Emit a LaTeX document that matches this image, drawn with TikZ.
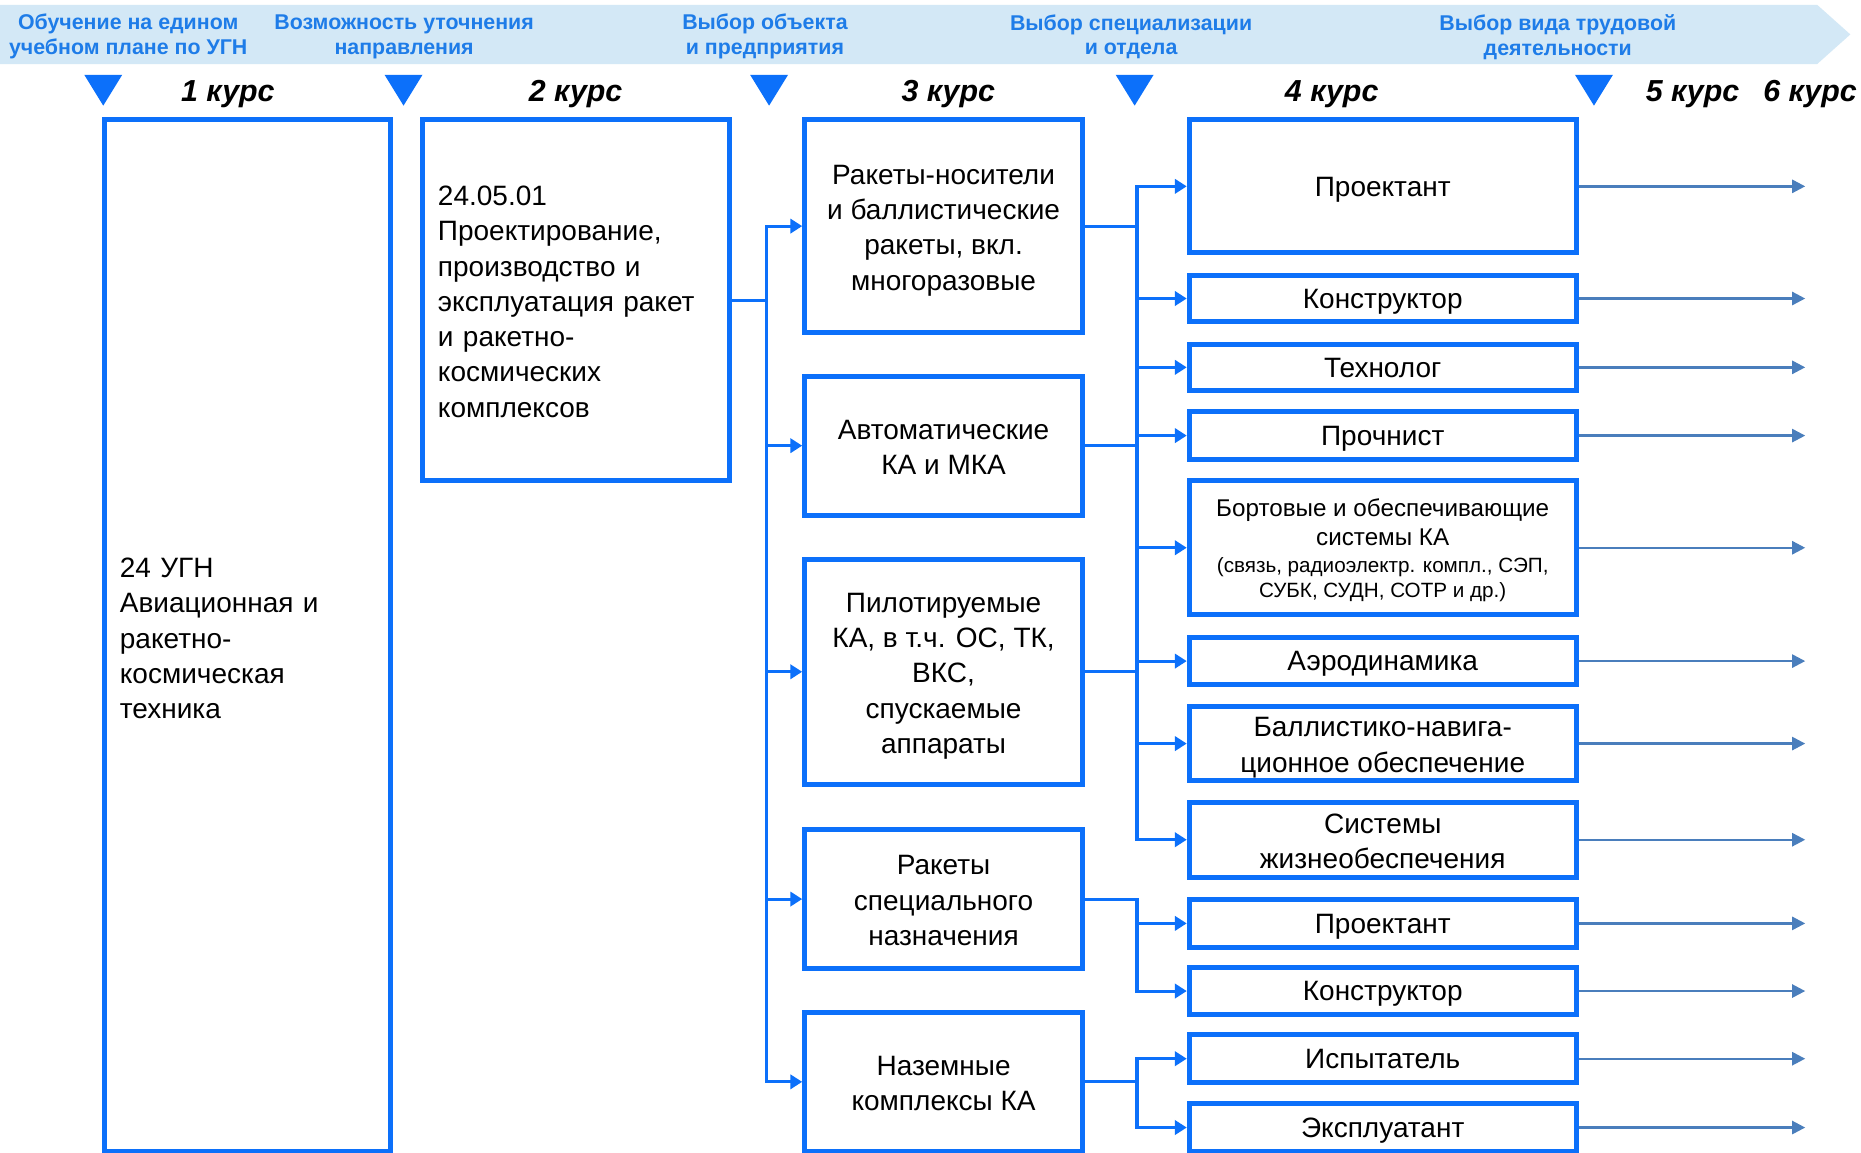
\documentclass[tikz,border=0pt]{standalone}
\usepackage{fontspec}
\setmainfont{Liberation Sans}
\usetikzlibrary{arrows.meta}
\definecolor{boxblue}{RGB}{12,112,250}
\definecolor{hdrblue}{RGB}{30,124,232}
\definecolor{bandblue}{RGB}{211,232,246}
\definecolor{steel}{RGB}{74,126,188}
\newcommand\pstrut{\rule[-0.212em]{0pt}{1.117em}}
\newcommand\fstrut{\rule{0pt}{1.0em}}
\begin{document}
\begin{tikzpicture}[x=0.5pt,y=-0.5pt,
  box/.style={draw=boxblue, line width=2.1pt, inner sep=0pt, align=center, fill=white,
    font=\fontsize{11.8}{14.85}\selectfont,
    execute at begin node=\pstrut, execute at end node=\pstrut},
  hdr/.style={inner sep=0pt, align=center, text=hdrblue, font=\bfseries\fontsize{9}{10.5}\selectfont},
  course/.style={inner sep=0pt, font=\bfseries\itshape\fontsize{12.8}{15}\selectfont},
  conn/.style={draw=boxblue, line width=1.3pt},
  arr/.style={conn, -{Triangle[length=5pt,width=6pt]}},
  outarr/.style={draw=steel, line width=1pt, -{Triangle[length=5.5pt,width=5.5pt]}},
  tri/.style={fill=boxblue}
]
\clip (0,0) rectangle (1568,971);
\fill[white] (0,0) rectangle (1568,971);
% top band
\fill[bandblue] (0,4) -- (1531,4) -- (1559,29) -- (1531,54) -- (0,54) -- cycle;
\node[hdr] (h1) at (108,31) {Обучение на едином\\учебном плане по УГН};
\node[hdr] (h2) at (340.5,31) {Возможность уточнения\\направления};
\node[hdr] (h3) at (644.5,31) {Выбор объекта\\и предприятия};
\node[hdr] (h4) at (953,31) {Выбор специализации\\и отдела};
\node[hdr] (h5) at (1312.5,31) {Выбор вида трудовой\\деятельности};
% triangles
\foreach \tx in {87,340,648,956,1343}{
  \fill[tri] (\tx-16,63) -- (\tx+16,63) -- (\tx,89) -- cycle;
}
% course labels
\node[course] (c1) at (192,79) {1 курс};
\node[course] (c2) at (485,79) {2 курс};
\node[course] (c3) at (799,79) {3 курс};
\node[course] (c4) at (1122,79) {4 курс};
\node[course] (c5) at (1426,79) {5 курс};
\node[course] (c6) at (1525,79) {6 курс};
% column 1 and 2
\node[box, minimum width=120.5pt, minimum height=434.5pt, text width=107.5pt, align=left] (b1) at (208.5,535.5)
  {\rule{0pt}{1.1em}24 УГН\\Авиационная и\\ракетно-\\космическая\\техника};
\node[box, minimum width=129.5pt, minimum height=152pt, text width=116.5pt, align=left] (b2) at (485.5,253)
  {\rule{0pt}{1.0em}24.05.01\\Проектирование,\\производство и\\эксплуатация ракет\\и ракетно-\\космических\\комплексов};
% column 3
\node[box, minimum width=117pt, minimum height=89.5pt] (b3a) at (795,190.5)
  {\fstrut Ракеты-носители\\и баллистические\\ракеты, вкл.\\многоразовые};
\node[box, minimum width=117pt, minimum height=58.5pt] (b3b) at (795,375.5)
  {\fstrut Автоматические\\КА и МКА};
\node[box, minimum width=117pt, minimum height=95pt] (b3c) at (795,566)
  {\fstrut Пилотируемые\\КА, в т.ч. ОС, ТК,\\ВКС,\\спускаемые\\аппараты};
\node[box, minimum width=117pt, minimum height=58.5pt] (b3d) at (795,757.5)
  {\fstrut Ракеты\\специального\\назначения};
\node[box, minimum width=117pt, minimum height=58.5pt] (b3e) at (795,911.5)
  {\fstrut Наземные\\комплексы КА};
% column 4
\node[box, minimum width=163pt, minimum height=56pt] (p1) at (1165,157) {Проектант};
\node[box, minimum width=163pt, minimum height=19.5pt] (k1) at (1165,251.5) {Конструктор};
\node[box, minimum width=163pt, minimum height=19.5pt] (t1) at (1165,309.5) {Технолог};
\node[box, minimum width=163pt, minimum height=20pt] (pr) at (1165,367) {Прочнист};
\node[box, minimum width=163pt, minimum height=56.5pt, font=\fontsize{10.2}{12}\selectfont] (bo) at (1165,461.5)
  {\fstrut Бортовые и обеспечивающие\\системы КА\\[-0.6pt]{\fontsize{8.7}{11}\selectfont (связь, радиоэлектр. компл., СЭП,}\\[-1.2pt]{\fontsize{8.7}{11}\selectfont СУБК, СУДН, СОТР и др.)}};
\node[box, minimum width=163pt, minimum height=20pt] (ae) at (1165,557) {Аэродинамика};
\node[box, minimum width=163pt, minimum height=31.5pt] (bn) at (1165,626.5) {\fstrut Баллистико-навига-\\ционное обеспечение};
\node[box, minimum width=163pt, minimum height=31.5pt] (sj) at (1165,707.5) {\fstrut Системы\\жизнеобеспечения};
\node[box, minimum width=163pt, minimum height=20pt] (p2) at (1165,778) {Проектант};
\node[box, minimum width=163pt, minimum height=20pt] (k2) at (1165,835) {Конструктор};
\node[box, minimum width=163pt, minimum height=20pt] (is) at (1165,892) {Испытатель};
\node[box, minimum width=163pt, minimum height=20pt] (ek) at (1165,950) {Эксплуатант};
% bus coordinates
\coordinate (bus1) at (646,0);
\coordinate (bus2) at (958,0);
\coordinate (endx) at (1521,0);
% column 2 -> column 3
\foreach \t in {b3a,b3b,b3c,b3d,b3e}{
  \draw[arr] (b2.east) -- (b2.east -| bus1) |- (\t.west);
}
% column 3 -> column 4
\foreach \t in {p1,k1,t1,pr,bo,ae,bn,sj}{
  \draw[arr] (b3a.east) -- (b3a.east -| bus2) |- (\t.west);
}
\draw[conn] (b3b.east) -- (b3b.east -| bus2);
\draw[conn] (b3c.east) -- (b3c.east -| bus2);
\foreach \t in {p2,k2}{
  \draw[arr] (b3d.east) -- (b3d.east -| bus2) |- (\t.west);
}
\foreach \t in {is,ek}{
  \draw[arr] (b3e.east) -- (b3e.east -| bus2) |- (\t.west);
}
% outputs
\foreach \t in {p1,k1,t1,pr,bo,ae,bn,sj,p2,k2,is,ek}{
  \draw[outarr] (\t.east) -- (\t.east -| endx);
}
\end{tikzpicture}
\end{document}
